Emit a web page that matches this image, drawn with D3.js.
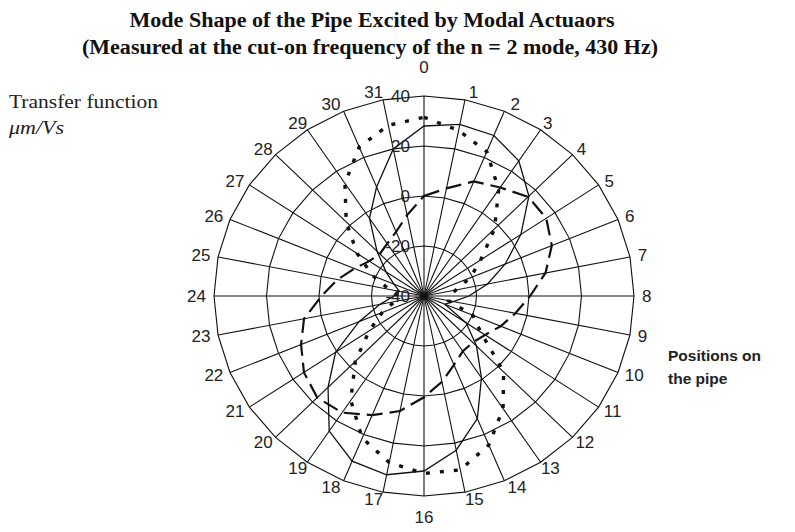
<!DOCTYPE html>
<html>
<head>
<meta charset="utf-8">
<script src="https://cdn.jsdelivr.net/npm/d3@7"></script>
<style>
  body { margin: 0; background: #fff; }
  svg { display: block; }
  .spoke-label, .ring-label { font-family: "Liberation Sans", Arial, sans-serif; font-size: 17px; fill: #222; }
  .title { font-family: "Liberation Serif", "Times New Roman", serif; font-weight: bold; font-size: 20px; fill: #111; }
</style>
</head>
<body>
<div id="chart"></div>
<script>
// positions on the pipe (32 spokes)
const positions = d3.range(32).map(String);
const ringValues = [-40, -20, 0, 20, 40];

// transfer function, dB re 1 um/Vs
const solidSeries = [28, 30, 29.5, 25, 16.5, 4.4, -6.5, -15.3, -22.9, -28.6, -31.4, -20.7, -11.7, -0.6, 13.1, 22.9,
  30, 32.9, 31.5, 25, 11.7, 0.5, -13.2, -22.9, -28.6, -30.5, -27.6, -22.6, -14.7, -2.6, 7.2, 20];
const dottedSeries = [31.5, 27.5, 22.5, 11.2, -2, -14, -20.9, -27.6, -30.5, -30.5, -19.9, -14, 2.9, 14.2, 24.5, 30.9,
  31, 27.9, 21.5, 10.2, -3, -14.9, -22.8, -28.6, -30.5, -26.5, -18.9, -9.4, 1.9, 14.2, 24.5, 29.6];
const dashedSeries = [0, 3.9, 9.6, 12.2, 16.1, 16, 12.7, 7.2, 0.4, -4.5, -8.4, -12, -13.7, -13.4, -10.2, -5,
  0.5, 6.9, 11.6, 16.1, 17.5, 15, 10.7, 6.6, -1, -6.4, -11.3, -14.9, -16.2, -14.8, -12.2, -7];

const width = 795, height = 532;
const cx = 424, cy = 296, outerR = 200, xStretch = 1.05;

const svg = d3.select('#chart').append('svg')
  .attr('width', width)
  .attr('height', height);

// titles
svg.append('text').attr('class', 'title')
  .attr('x', 372).attr('y', 27).attr('text-anchor', 'middle')
  .attr('textLength', 485).attr('lengthAdjust', 'spacingAndGlyphs')
  .text('Mode Shape of the Pipe Excited by Modal Actuaors');
svg.append('text').attr('class', 'title')
  .attr('x', 370).attr('y', 54).attr('text-anchor', 'middle')
  .attr('textLength', 576).attr('lengthAdjust', 'spacingAndGlyphs')
  .text('(Measured at the cut-on frequency of the n = 2 mode, 430 Hz)');

// unit annotation
const unit = svg.append('g')
  .style('font-family', '"Liberation Serif", "Times New Roman", serif')
  .style('font-size', '18px').style('fill', '#222');
unit.append('text').attr('x', 9).attr('y', 108)
  .attr('textLength', 149).attr('lengthAdjust', 'spacingAndGlyphs')
  .text('Transfer function');
unit.append('text').attr('x', 9).attr('y', 134)
  .attr('textLength', 55).attr('lengthAdjust', 'spacingAndGlyphs')
  .style('font-style', 'italic').style('font-size', '19px').text('μm/Vs');

// position annotation
const pos = svg.append('g')
  .style('font-family', '"Liberation Sans", Arial, sans-serif')
  .style('font-weight', 'bold').style('font-size', '15.5px').style('fill', '#222');
pos.append('text').attr('x', 668).attr('y', 361).text('Positions on');
pos.append('text').attr('x', 668).attr('y', 384).text('the pipe');

const r = d3.scaleLinear().domain([-40, 40]).range([0, outerR]);
const angle = d3.scaleBand().domain(positions).range([0, 2 * Math.PI]).align(0);

const plot = svg.append('g').attr('transform', `translate(${cx},${cy})`);
// the original figure is slightly wider than tall
const grid = plot.append('g').attr('transform', `scale(${xStretch},1)`);

// grid rings (polygons)
const ringLine = d3.lineRadial()
  .angle((d) => angle(d))
  .curve(d3.curveLinearClosed);

grid.selectAll('.ring')
  .data(ringValues.filter((v) => v > -40))
  .join('path')
  .attr('class', 'ring')
  .attr('d', (v) => ringLine.radius(r(v))(positions))
  .attr('fill', 'none')
  .attr('stroke', '#111')
  .attr('stroke-width', 1.1)
  .attr('vector-effect', 'non-scaling-stroke');

// spokes
grid.selectAll('.spoke')
  .data(positions)
  .join('line')
  .attr('class', 'spoke')
  .attr('x1', 0).attr('y1', 0)
  .attr('x2', (d) => outerR * Math.sin(angle(d)))
  .attr('y2', (d) => -outerR * Math.cos(angle(d)))
  .attr('stroke', '#111')
  .attr('stroke-width', 1.1)
  .attr('vector-effect', 'non-scaling-stroke');

// series
const seriesLine = d3.lineRadial()
  .angle((d, i) => angle(positions[i]))
  .radius((d) => r(d))
  .curve(d3.curveLinearClosed);

grid.append('path')
  .attr('d', seriesLine(dashedSeries))
  .attr('fill', 'none')
  .attr('stroke', '#111')
  .attr('stroke-width', 2.2)
  .attr('stroke-dasharray', '16,7')
  .attr('vector-effect', 'non-scaling-stroke');

grid.append('path')
  .attr('d', seriesLine(dottedSeries))
  .attr('fill', 'none')
  .attr('stroke', '#111')
  .attr('stroke-width', 3.4)
  .attr('stroke-dasharray', '4,10')
  .attr('vector-effect', 'non-scaling-stroke');

grid.append('path')
  .attr('d', seriesLine(solidSeries))
  .attr('fill', 'none')
  .attr('stroke', '#111')
  .attr('stroke-width', 1.3)
  .attr('vector-effect', 'non-scaling-stroke');

// spoke labels, set just outside the outer polygon
plot.selectAll('.spoke-label')
  .data(positions)
  .join('text')
  .attr('class', 'spoke-label')
  .attr('text-anchor', 'middle')
  .attr('dominant-baseline', 'central')
  .text((d) => d)
  .each(function (d) {
    const a = angle(d);
    const w = this.getComputedTextLength();
    const s = Math.sin(a), c = Math.cos(a);
    const axial = d === '0' || d === '16';
    const yOff = d === '0' ? 29 : d === '16' ? 21 : 7;
    // labels near the top and bottom sit a little further out sideways
    const side = !axial && Math.abs(c) > 0.9 ? Math.sign(s) * 6 : 0;
    d3.select(this)
      .attr('x', xStretch * outerR * s + s * (8 + w / 2) + side)
      .attr('y', -outerR * c - c * yOff);
  });

// ring value labels along spoke 0
plot.selectAll('.ring-label')
  .data(ringValues)
  .join('text')
  .attr('class', 'ring-label')
  .attr('x', -14)
  .attr('y', (v) => -r(v))
  .attr('text-anchor', 'end')
  .attr('dominant-baseline', 'central')
  .text((v) => v);
</script>
</body>
</html>
